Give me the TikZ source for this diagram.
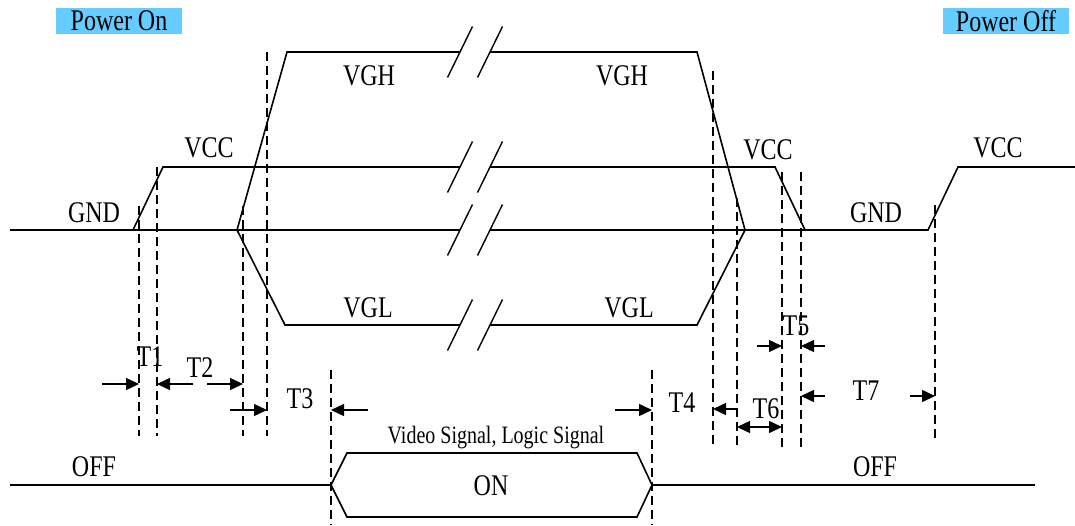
\documentclass[tikz,border=0pt]{standalone}
\usepackage{fontspec}
\setmainfont[FakeStretch=0.8]{Liberation Serif}
\usetikzlibrary{arrows.meta}
\definecolor{banner}{RGB}{102,204,255}
\begin{document}
\begin{tikzpicture}[x=1pt,y=-1pt,
  wave/.style={line width=1.6pt, line join=miter},
  brk/.style={line width=1.4pt},
  guide/.style={line width=1.4pt, dash pattern=on 9pt off 5pt},
  tipA/.tip={Triangle[length=13pt,width=12pt]},
  meas/.style={line width=1.4pt, -tipA},
  meas2/.style={line width=1.4pt, tipA-tipA},
  lbl/.style={font=\fontsize{30}{36}\selectfont, anchor=base, inner sep=0pt},
  small/.style={font=\fontsize{25}{30}\selectfont, anchor=base, inner sep=0pt},
  banner/.style={fill=banner, minimum width=126pt, minimum height=26pt, inner sep=0pt, font=\fontsize{30}{36}\selectfont}]
\useasboundingbox (0,0) rectangle (1075,525);

% banners
\node[banner] (pon) at (119,21) {Power On};
\node[banner] (poff) at (1006,21) {Power Off};

% GND / VCC waveform
\draw[wave] (10,230) -- (460,230);
\draw[wave] (490,230) -- (928,230) -- (958,167) -- (1075,167);
\draw[wave] (133,230) -- (163,167) -- (460,167);
\draw[wave] (490,167) -- (775,167) -- (805,230);
% VGH / VGL waveform
\draw[wave] (237,230) -- (287,52) -- (460,52);
\draw[wave] (490,52) -- (697,52) -- (745,230);
\draw[wave] (237,230) -- (285,325) -- (460,325);
\draw[wave] (490,325) -- (697,325) -- (745,230);
% break marks
\foreach \y in {52,167,230,325} {
  \draw[brk] (447.5,\y+25.5) -- (472.5,\y-25.5);
  \draw[brk] (477.5,\y+25.5) -- (502.5,\y-25.5);
}

% signal line
\draw[wave] (10,485) -- (331,485);
\draw[wave] (331,485) -- (347,453) -- (637,453) -- (652,485) -- (637,517) -- (347,517) -- cycle;
\draw[wave] (652,485) -- (1035,485);

% dashed guides
\coordinate (g1) at (139,206); \draw[guide] (g1) -- (139,436);
\coordinate (g2) at (157,167); \draw[guide] (g2) -- (157,436);
\coordinate (g3) at (243,206); \draw[guide] (g3) -- (243,436);
\coordinate (g4) at (267,52);  \draw[guide] (g4) -- (267,436);
\coordinate (g5) at (331,370); \draw[guide] (g5) -- (331,525);
\coordinate (g6) at (652,370); \draw[guide] (g6) -- (652,525);
\coordinate (g7) at (713,71);  \draw[guide] (g7) -- (713,447);
\coordinate (g8) at (737,198); \draw[guide] (g8) -- (737,447);
\coordinate (g9) at (782,172); \draw[guide] (g9) -- (782,447);
\coordinate (g10) at (801,172); \draw[guide] (g10) -- (801,447);
\coordinate (g11) at (935,205); \draw[guide] (g11) -- (935,440);

% measurement arrows
\draw[meas] (102,384) -- (139,384);
\draw[meas] (193,384) -- (157,384);
\draw[meas] (207,384) -- (243,384);
\draw[meas] (230,410) -- (267,410);
\draw[meas] (368,410) -- (331,410);
\draw[meas] (615,410) -- (652,410);
\draw[meas] (737,409) -- (713,409);
\draw[meas2] (737,427) -- (782,427);
\draw[meas] (757,346) -- (782,346);
\draw[meas] (825,346) -- (801,346);
\draw[meas] (825,396) -- (801,396);
\draw[meas] (910,396) -- (935,396);

% labels
\node[lbl] (gndL) at (94,222) {GND};
\node[lbl] (vccL) at (209,157) {VCC};
\node[lbl] (vghL) at (369,85) {VGH};
\node[lbl] (vghR) at (622,85) {VGH};
\node[lbl] (vglL) at (368,317) {VGL};
\node[lbl] (vglR) at (629,317) {VGL};
\node[lbl] (vccM) at (768,159) {VCC};
\node[lbl] (vccR) at (998,157) {VCC};
\node[lbl] (gndR) at (876,222) {GND};
\node[lbl] (offL) at (94,476) {OFF};
\node[lbl] (offR) at (875,476) {OFF};
\node[lbl] (on) at (491,495) {ON};
\node[small] (vid) at (496,443) {Video Signal, Logic Signal};
\node[lbl] (t1) at (150,366) {T1};
\node[lbl] (t2) at (200,377) {T2};
\node[lbl] (t3) at (300,408) {T3};
\node[lbl] (t4) at (682,412) {T4};
\node[lbl] (t5) at (796,335) {T5};
\node[lbl] (t6) at (766,418) {T6};
\node[lbl] (t7) at (866,400) {T7};
\end{tikzpicture}
\end{document}
